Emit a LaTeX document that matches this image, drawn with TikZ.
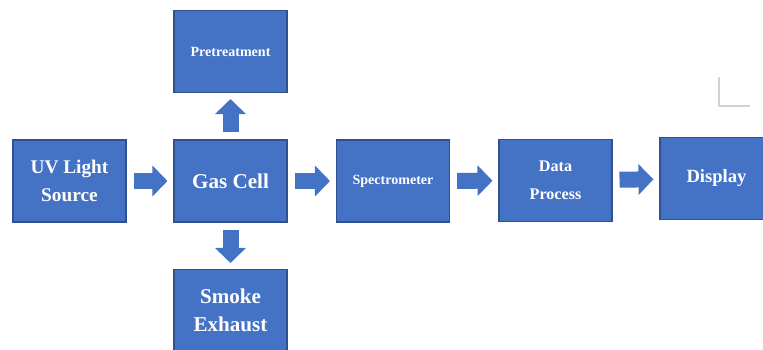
\documentclass[tikz,border=0pt]{standalone}
\usepackage{fontspec}
\setmainfont{Liberation Serif}
\usetikzlibrary{arrows.meta}
\definecolor{boxblue}{RGB}{68,114,196}
\definecolor{edgeblue}{RGB}{47,82,143}
\begin{document}
\begin{tikzpicture}[x=0.02cm,y=-0.02cm,
  blk/.style={draw=edgeblue,line width=0.6pt,fill=boxblue,text=white,
    minimum width=2.26cm,minimum height=1.64cm,inner sep=0pt,align=center},
  flow/.style={draw=boxblue,line width=0.32cm,shorten <=0.14cm,shorten >=0.12cm,
    -{Triangle[width=0.6cm,length=0.3cm]}},
  fs/.style={font=\fontsize{#1}{16}\selectfont\bfseries}]
\useasboundingbox (0,0) rectangle (763,349);

\draw (69.5,181)  node (uv)  [blk,fs=11]   {UV Light\\Source};
\draw (230.5,181) node (gas) [blk,fs=12]   {Gas Cell};
\draw (uv) -- (gas) [flow];

\draw (230.5,51.5) node (pre) [blk,fs=8]   {Pretreatment};
\draw (gas) -- (pre) [flow];

\draw (230.5,310.5) node (smk) [blk,fs=12] {Smoke\\Exhaust};
\draw (gas) -- (smk) [flow];

\draw (393,181)   node (spec) [blk,fs=8]   {Spectrometer};
\draw (gas) -- (spec) [flow];

\draw (555.5,180.5) node (data) [blk,fs=9.2] {Data\\Process};
\draw (spec) -- (data) [flow];

\draw (716.5,178.5) node (disp) [blk,fs=10.6] {Display};
\draw (data) -- (disp) [flow];

\draw[gray!35,line width=1pt] (719,77) -- (719,106) -- (750,106);
\end{tikzpicture}
\end{document}
